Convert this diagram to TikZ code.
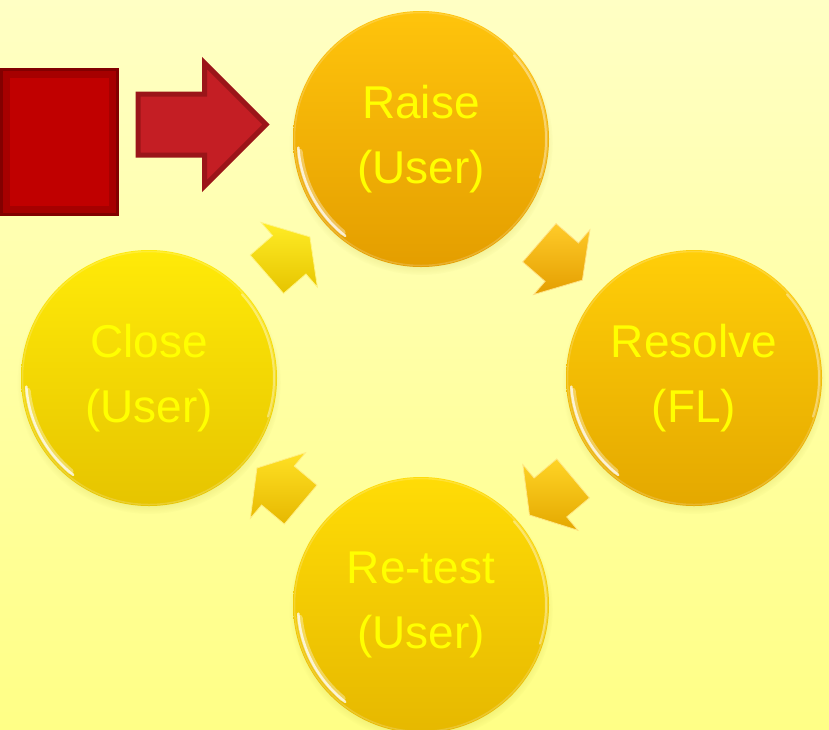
\documentclass[tikz,border=0pt]{standalone}
\usepackage{fontspec}
\setmainfont{Liberation Sans}
\usepackage{tikz}
\usetikzlibrary{shapes,arrows}
\usetikzlibrary{calc}
\usetikzlibrary{positioning}
\usetikzlibrary{shadows}
\definecolor{bgtop}{HTML}{FFFFC4}
\definecolor{bgbottom}{HTML}{FFFF86}
\definecolor{boxred}{HTML}{C00000}
\definecolor{boxedge}{HTML}{6A0000}
\definecolor{entryred}{HTML}{C41E24}
\definecolor{entryedge}{HTML}{9B1519}
\definecolor{stagetext}{HTML}{FFFF00}
\definecolor{raisetop}{HTML}{FFC40C}
\definecolor{raisebot}{HTML}{E49E00}
\definecolor{resolvetop}{HTML}{FFCE08}
\definecolor{resolvebot}{HTML}{E4A800}
\definecolor{retesttop}{HTML}{FFDC06}
\definecolor{retestbot}{HTML}{E6B800}
\definecolor{closetop}{HTML}{FFEA08}
\definecolor{closebot}{HTML}{E6C400}
\tikzstyle{stage} = [circle, minimum size=256pt, inner sep=0pt, align=center,
    text=stagetext, font=\fontsize{46}{65}\selectfont,
    circular drop shadow={shadow scale=1.03, shadow xshift=0pt,
      shadow yshift=-4pt, opacity=.25, fill=olive}]
\tikzstyle{turn} = [single arrow, minimum height=57pt, inner xsep=0pt,
    inner ysep=25pt, single arrow head extend=17.5pt,
    single arrow tip angle=115, line width=.8pt]
\tikzstyle{startbox} = [rectangle, fill=boxred, minimum width=119pt,
    minimum height=148pt, inner sep=0pt]
\tikzstyle{entry} = [single arrow, fill=entryred, draw=entryedge,
    line width=5pt, minimum height=128pt, inner xsep=0pt, inner ysep=28pt,
    single arrow head extend=31pt, single arrow tip angle=90]
% glint on the rim of a stage
\newcommand{\stagerim}[1]{%
    \draw [white, opacity=.18, line width=1.5pt] (#1) circle (126.5pt);
    \draw [white, opacity=.35, line width=6pt, line cap=round]
        ($(#1)+(130:122)$) arc (130:174:122);
    \draw [white, opacity=.75, line width=2.5pt, line cap=round]
        ($(#1)+(128:123)$) arc (128:176:123);
    \draw [white, opacity=.4, line width=2pt, line cap=round]
        ($(#1)+(-42:125)$) arc (-42:18:125);
}

\begin{document}
\begin{tikzpicture}[x=1pt, y=-1pt, >=latex']
    % background
    \shade [top color=bgtop, bottom color=bgbottom] (0,0) rectangle (829,729);
    \useasboundingbox (0,0) rectangle (829,729);

    % We start by placing the stages
    \node [stage, top color=raisetop, bottom color=raisebot] (raise) at (421,139) {Raise\\(User)};
    \node [stage, top color=resolvetop, bottom color=resolvebot] (resolve) at ($(raise)+(273,239)$) {Resolve\\(FL)};
    \node [stage, top color=retesttop, bottom color=retestbot] (retest) at ($(raise)+(0,466)$) {Re-test\\(User)};
    \node [stage, top color=closetop, bottom color=closebot] (close) at ($(raise)+(-272,239)$) {Close\\(User)};
    \stagerim{raise}
    \stagerim{resolve}
    \stagerim{retest}
    \stagerim{close}

    % the arrows of the cycle
    \node [turn, top color=raisetop!88!white, bottom color=raisebot, draw=raisetop!50!white, rotate=-41] (turn1) at ($(raise)!0.49!(resolve)$) {};
    \node [turn, top color=resolvetop!88!white, bottom color=resolvebot, draw=resolvetop!50!white, rotate=-140] (turn2) at ($(resolve)!0.5!(retest)$) {};
    \node [turn, top color=retesttop!88!white, bottom color=retestbot, draw=retesttop!50!white, rotate=140] (turn3) at ($(retest)!0.5!(close)$) {};
    \node [turn, top color=closetop!88!white, bottom color=closebot, draw=closetop!50!white, rotate=41] (turn4) at ($(close)!0.49!(raise)$) {};

    % the red box and its arrow into the cycle
    \node [startbox] (start) at (59.5,142) {};
    \draw [boxedge, opacity=.3, line width=10pt] ([shift={(5,5)}]start.north west) rectangle ([shift={(-5,-5)}]start.south east);
    \draw [boxedge, opacity=.6, line width=3pt] ([shift={(1.5,1.5)}]start.north west) rectangle ([shift={(-1.5,-1.5)}]start.south east);
    \node [entry, anchor=tail] (entry) at (135.5,124.5) {};
\end{tikzpicture}
\end{document}
